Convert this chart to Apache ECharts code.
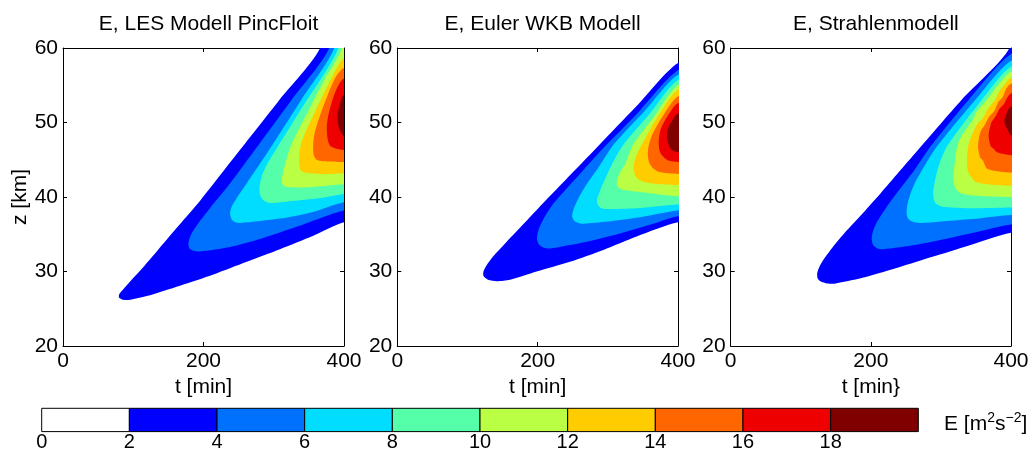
<!DOCTYPE html>
<html>
<head>
<meta charset="utf-8">
<script src="https://cdn.jsdelivr.net/npm/echarts@6/dist/echarts.min.js"></script>
<style>
  html, body { margin: 0; padding: 0; background: #fff; }
  #chart { width: 1034px; height: 458px; }
</style>
</head>
<body>
<div id="chart"></div>
<script>
// Contour levels of the wave energy E (m^2 s^-2)
const levels = [2, 4, 6, 8, 10, 12, 14, 16, 18];
const colorbarEdges = [0, 2, 4, 6, 8, 10, 12, 14, 16, 18, 20];
const colorbarTicks = [0, 2, 4, 6, 8, 10, 12, 14, 16, 18];
const tTicks = [0, 200, 400];
const zTicks = [20, 30, 40, 50, 60];
const panelTitles = ['E, LES Modell PincFloit', 'E, Euler WKB Modell', 'E, Strahlenmodell'];
const timeAxisNames = ['t [min]', 't [min]', 't [min}'];

// Outline of the region E >= level, one list per level, as [t (min), z (km)]:
// from the upper end, down the upper flank, round the tip, then along the lower flank to t = 400.
const lesOutlines = [
  [[366,60],[307.7,53.0],[251.8,46.3],[196.0,39.6],[165.1,36.2],[135.2,32.9],[109.6,30.1],[91.1,28.2],[80.4,27.0],[79.7,26.5],[85.4,26.2],[95.4,26.2],[119.1,26.7],[166.5,28.1],[214.2,29.6],[261.5,31.3],[308.8,33.0],[356.3,34.8],[400,36.6]],
  [[379,60],[325,53.0],[273,46.3],[237.7,41.8],[210,38.6],[192,36.4],[182,34.9],[178.5,33.8],[180,33.1],[186,32.8],[195,32.7],[237.7,33.3],[285.1,34.5],[332.6,36.0],[400,38.2]],
  [[386,60],[338.8,53.0],[293.3,46.3],[262,41.9],[247,39.8],[240,38.7],[237.8,37.8],[240,37.0],[245,36.6],[252,36.5],[308.9,37.1],[356.3,38.0],[400,39.3]],
  [[392,60],[337,51.5],[290,44.3],[283,42.8],[279.8,41.4],[280.5,40.3],[285,39.6],[294.7,39.2],[330,39.5],[370,39.9],[400,40.4]],
  [[396.6,60],[373,55.9],[349,51.5],[325,47.0],[315,44.0],[311.5,42.4],[312.5,41.7],[316,41.4],[325,41.3],[350,41.3],[400,41.7]],
  [[400,58.6],[382,55.9],[359,51.5],[340,47.5],[336.3,45.6],[336.5,44.2],[339,43.5],[350,43.2],[375,43.1],[400,43.2]],
  [[400,57.3],[387,55.9],[368,51.5],[358,48.5],[356,46.8],[357,45.6],[361,45.0],[370,44.8],[400,44.7]],
  [[400,55.9],[388,54.2],[379,51.5],[375.6,49.6],[376.5,47.9],[380,46.9],[388,46.5],[400,46.3]],
  [[400,53.7],[394,52.5],[391,51.0],[392,49.6],[395,48.8],[400,48.2]]
];

const eulerOutlines = [
  [[400,58.0],[340,52.1],[285,46.7],[240,42.3],[200,38.4],[170,35.4],[151,33.5],[136.4,32.0],[127.1,30.8],[122.8,30.0],[122.8,29.4],[129.2,28.9],[142.1,28.7],[160.6,28.9],[198.6,30.0],[246.1,31.3],[293.6,32.9],[341.1,34.7],[400,36.6]],
  [[400,57.0],[340,51.0],[296,46.8],[265,43.6],[240,41.0],[220,38.8],[208,37.0],[201,35.5],[199,34.4],[202,33.6],[209,33.2],[217.6,33.1],[269.9,34.0],[317.4,35.1],[364.8,36.4],[400,37.4]],
  [[400,56.4],[354,51.7],[308,47.0],[289,44.3],[272,42.0],[259,40.0],[251,38.3],[249,37.4],[252,36.8],[258,36.5],[265,36.4],[300,36.7],[340,37.2],[400,38.2]],
  [[400,55.7],[360,51.2],[322,47.0],[306,44.4],[295,42.2],[288,40.6],[284.5,39.6],[286,38.9],[291,38.5],[298,38.4],[340,38.5],[400,39.0]],
  [[400,55.0],[366,50.8],[336,47.0],[325,44.5],[316,43.0],[312.5,42.0],[314,41.4],[318,41.1],[326,40.9],[360,40.5],[400,40.1]],
  [[400,54.4],[370,50.6],[350,47.3],[341,45.6],[337,44.3],[337.5,43.3],[341,42.6],[352,42.0],[375,41.7],[400,41.6]],
  [[400,53.5],[378,50.8],[363,48.3],[358,46.8],[357,45.6],[359,44.6],[363,44.0],[372,43.4],[400,43.1]],
  [[400,52.6],[384,50.7],[375,49.0],[372.5,47.5],[373.5,46.3],[377,45.6],[386,44.9],[400,44.7]],
  [[400,51.2],[390,50.0],[385,49.0],[384.5,47.9],[388,46.7],[393,46.2],[400,46.0]]
];

const rayOutlines = [
  [[398,60],[329,53.0],[269,46.5],[214,40.5],[184.5,37.4],[160,34.9],[145,33.2],[134,31.8],[127,30.7],[123.5,29.8],[124,29.1],[128,28.7],[138,28.4],[150,28.4],[194.1,29.3],[241.6,30.6],[289.1,32.0],[336.8,33.4],[400,35.2]],
  [[400,59.2],[339,53.0],[287,47.0],[262,43.6],[240,40.9],[222,38.6],[209,36.7],[203,35.4],[201.2,34.4],[203,33.6],[209,33.1],[217.8,33.0],[265.4,33.6],[312.9,34.5],[360.5,35.5],[400,36.3]],
  [[400,58.3],[348.6,53.0],[296,47.0],[278,44.4],[264,42.1],[256,40.3],[252,38.9],[251,37.9],[253,37.1],[259,36.7],[270,36.5],[300,36.7],[340,37.0],[400,37.6]],
  [[400,57.5],[358,53.0],[310,47.0],[298,44.5],[291.5,42.2],[289,40.6],[290,39.6],[293,39.1],[302,38.7],[340,38.5],[400,38.6]],
  [[400,56.8],[385,55.4],[378,54.6],[365,53.0],[352,51.6],[345,50.3],[333,48.7],[326,47.6],[322.5,46.5],[320,44.8],[318.5,43.5],[318,42.3],[320,41.3],[324,40.8],[331,40.4],[360,40.1],[400,40.0]],
  [[400,56.0],[390,55.0],[384,54.3],[377,53.0],[368,52.0],[360,50.6],[352,49.8],[345,48.5],[340,47.2],[337.5,45.8],[337,44.8],[338,43.7],[341,43.0],[350,42.0],[375,41.6],[400,41.5]],
  [[400,55.2],[393,54.5],[388,53.4],[382,52.8],[376,51.5],[369,50.8],[362,49.6],[357,48.9],[354,47.8],[353,46.6],[356,45.3],[360,44.9],[366,43.8],[385,43.4],[400,43.3]],
  [[400,53.9],[395,53.4],[390,52.5],[384,51.9],[378,50.8],[372,50.0],[369,48.9],[368,48.2],[371,46.8],[376,46.4],[380,46.0],[400,45.6]],
  [[400,52.1],[396,51.7],[393,51.0],[390.5,50.3],[392,49.6],[395,49.1],[400,48.3]]
];

const panelOutlines = [lesOutlines, eulerOutlines, rayOutlines];

// Jet-like band colours, white below the first level
const BAND_COLORS = ['#FFFFFF', '#0000FF', '#0070FF', '#00DDFF', '#55FFAA', '#BBFF44', '#FFCC00', '#FF6600', '#EE0000', '#800000'];
const FONT = '"Liberation Sans", Arial, Helvetica, sans-serif';
const T_RANGE = [0, 400];
const Z_RANGE = [20, 60];

const panelRects = [
  { left: 63, top: 48, width: 281, height: 298 },
  { left: 397.3, top: 48, width: 280.7, height: 298 },
  { left: 730.7, top: 48, width: 280.3, height: 298 }
];
const colorbarRect = { left: 41.7, top: 408.3, width: 876.6, height: 23.3 };

const chart = echarts.init(document.getElementById('chart'), null, { renderer: 'canvas' });

const grids = panelRects.map(r => Object.assign({ containLabel: false }, r));
grids.push(Object.assign({ containLabel: false }, colorbarRect));

const xAxes = [];
const yAxes = [];
const baseText = { color: '#000', fontFamily: FONT, fontSize: 21 };

panelRects.forEach((r, p) => {
  const common = {
    gridIndex: p, type: 'value', min: T_RANGE[0], max: T_RANGE[1], interval: tTicks[1] - tTicks[0],
    axisLine: { show: true, onZero: false, lineStyle: { color: '#000', width: 1 } },
    axisTick: { show: true, inside: true, length: 4, lineStyle: { color: '#000' } },
    splitLine: { show: false }
  };
  xAxes.push(Object.assign({}, common, {
    position: 'bottom',
    axisLabel: Object.assign({ margin: 5 }, baseText),
    name: timeAxisNames[p], nameLocation: 'middle', nameGap: 26,
    nameTextStyle: Object.assign({}, baseText)
  }));
  xAxes.push(Object.assign({}, common, { position: 'top', axisLabel: { show: false } }));

  const ycommon = {
    gridIndex: p, type: 'value', min: Z_RANGE[0], max: Z_RANGE[1], interval: zTicks[1] - zTicks[0],
    axisLine: { show: true, onZero: false, lineStyle: { color: '#000', width: 1 } },
    axisTick: { show: true, inside: true, length: 4, lineStyle: { color: '#000' } },
    splitLine: { show: false }
  };
  const left = Object.assign({}, ycommon, {
    position: 'left',
    axisLabel: Object.assign({ margin: 5 }, baseText)
  });
  if (p === 0) {
    Object.assign(left, {
      name: 'z [km]', nameLocation: 'middle', nameGap: 32, nameRotate: 90,
      nameTextStyle: Object.assign({}, baseText)
    });
  }
  yAxes.push(left);
  yAxes.push(Object.assign({}, ycommon, { position: 'right', axisLabel: { show: false } }));
});

// Colorbar axes
xAxes.push({
  gridIndex: 3, type: 'value', min: colorbarEdges[0], max: colorbarEdges[colorbarEdges.length - 1],
  interval: colorbarTicks[1] - colorbarTicks[0], position: 'bottom',
  axisLine: { show: false }, axisTick: { show: false }, splitLine: { show: false },
  axisLabel: Object.assign({ margin: 1,
    formatter: v => (colorbarTicks.indexOf(v) >= 0 ? String(v) : '') }, baseText, { fontSize: 20 })
});
yAxes.push({ gridIndex: 3, type: 'value', min: 0, max: 1, show: false });

function contourSeries(p) {
  const outlines = panelOutlines[p];
  return {
    type: 'custom',
    coordinateSystem: 'cartesian2d',
    xAxisIndex: p * 2, yAxisIndex: p * 2,
    clip: true, silent: true, animation: false,
    encode: { x: 0, y: 1 },
    data: outlines.map(pts => pts[Math.floor(pts.length / 2)]),
    renderItem(params, api) {
      const pts = outlines[params.dataIndex];
      const first = pts[0];
      const last = pts[pts.length - 1];
      // close the region outside the plotting frame so the clip trims it
      const tOut = T_RANGE[1] + 40;
      const zOut = Z_RANGE[1] + 5;
      const ring = pts.slice();
      ring.push([tOut, last[1]]);
      if (first[1] >= Z_RANGE[1]) {
        ring.push([tOut, zOut]);
        ring.push([first[0], zOut]);
      } else {
        ring.push([tOut, first[1]]);
      }
      return {
        type: 'polygon',
        shape: { points: ring.map(q => api.coord(q)), smooth: 0.25 },
        style: { fill: BAND_COLORS[params.dataIndex + 1], stroke: null }
      };
    }
  };
}

const series = [0, 1, 2].map(contourSeries);

series.push({
  type: 'custom',
  coordinateSystem: 'cartesian2d',
  xAxisIndex: 6, yAxisIndex: 6, silent: true, animation: false,
  encode: { x: 0, y: 1 },
  data: colorbarEdges.slice(0, -1).map((lo, i) => [lo, 0.5, colorbarEdges[i + 1]]),
  renderItem(params, api) {
    const a = api.coord([api.value(0), 1]);
    const b = api.coord([api.value(2), 0]);
    return {
      type: 'rect',
      shape: { x: a[0], y: a[1], width: b[0] - a[0], height: b[1] - a[1] },
      style: { fill: BAND_COLORS[params.dataIndex], stroke: '#000', lineWidth: 1 }
    };
  }
});

const titles = panelRects.map((r, p) => ({
  text: panelTitles[p],
  left: r.left + r.width / 2,
  top: 9,
  textAlign: 'center',
  textStyle: { color: '#000', fontFamily: FONT, fontSize: 21, fontWeight: 'normal' }
}));

chart.setOption({
  animation: false,
  backgroundColor: '#fff',
  title: titles,
  grid: grids,
  xAxis: xAxes,
  yAxis: yAxes,
  series: series,
  graphic: [{
    type: 'text',
    left: 944, top: 411,
    silent: true,
    style: {
      text: 'E [m{sup|2}s{sup|\u22122}]',
      fontFamily: FONT, fontSize: 21, fill: '#000', lineHeight: 26,
      rich: { sup: { fontFamily: FONT, fontSize: 14, verticalAlign: 'top', lineHeight: 26 } }
    }
  }]
});
</script>
</body>
</html>
